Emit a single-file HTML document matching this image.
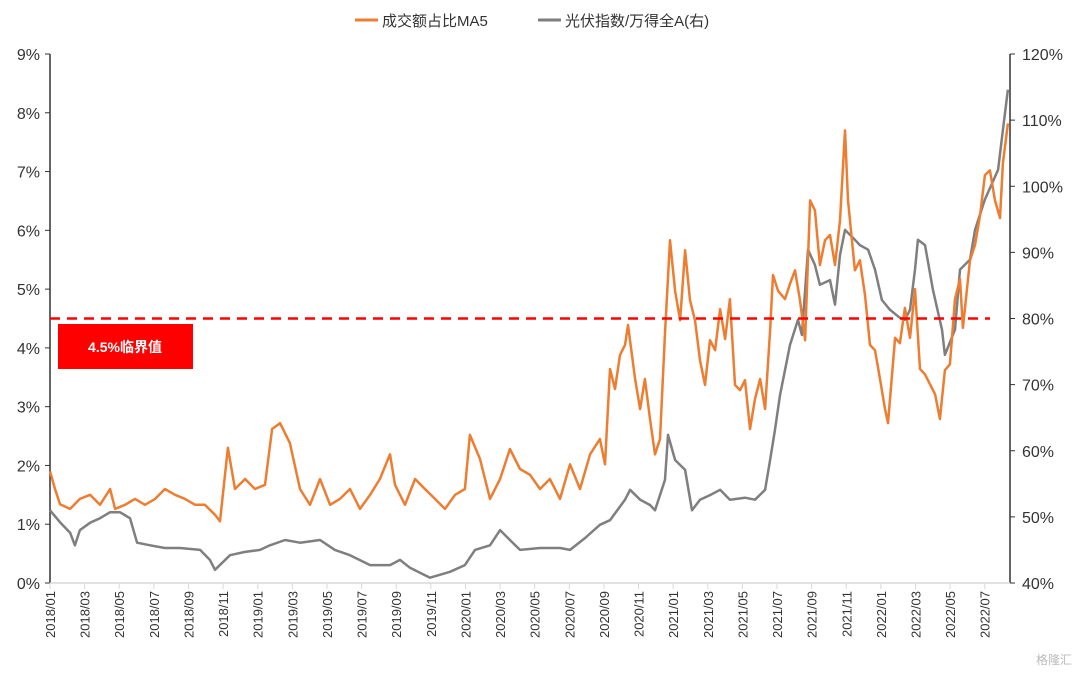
<!DOCTYPE html>
<html><head><meta charset="utf-8">
<style>
body{margin:0;background:#fff;font-family:"Liberation Sans","Noto Sans CJK SC",sans-serif;}
svg text{font-family:"Liberation Sans","Noto Sans CJK SC",sans-serif;}
</style></head>
<body>
<svg id="chart" width="1080" height="671" xmlns="http://www.w3.org/2000/svg">
<g id="grid"></g>
<g id="series"></g>
<g id="legend">
  <line x1="355" y1="20" x2="378" y2="20" stroke="#ED7D31" stroke-width="3"/>
  <text x="382" y="26" font-size="15" fill="#333">成交额占比MA5</text>
  <line x1="538" y1="20" x2="561" y2="20" stroke="#7F7F7F" stroke-width="3"/>
  <text x="565" y="26" font-size="15" fill="#333">光伏指数/万得全A(右)</text>
</g>
<rect x="58" y="324" width="135" height="45" fill="#FF0000"/>
<text x="125" y="352" font-size="14" font-weight="bold" fill="#fff" text-anchor="middle">4.5%临界值</text>
<text x="1072" y="664" font-size="12" fill="#bbb" text-anchor="end">格隆汇</text>
</svg>
<script>
const leftTicks=[0,1,2,3,4,5,6,7,8,9];
const rightTicks=[40,50,60,70,80,90,100,110,120];
const threshold=4.5;
const shareMonths=[0,0.29,0.58,1.16,1.73,2.31,2.89,3.47,3.76,4.33,4.91,5.49,6.07,6.64,7.22,7.8,8.38,8.95,9.53,9.82,10.28,10.69,11.27,11.84,12.42,12.83,13.29,13.86,14.44,15.02,15.6,16.18,16.75,17.33,17.91,18.49,19.06,19.64,19.93,20.51,21.09,21.66,22.24,22.82,23.4,23.97,24.26,24.84,25.42,26,26.57,27.15,27.73,28.31,28.88,29.46,30.04,30.62,31.2,31.77,32.06,32.35,32.64,32.93,33.22,33.39,33.8,34.09,34.37,34.66,34.95,35.24,35.53,35.82,36.11,36.4,36.69,36.97,37.26,37.55,37.84,38.13,38.42,38.71,39,39.28,39.57,39.86,40.15,40.44,40.73,41.02,41.31,41.6,41.77,42.06,42.46,42.75,43.04,43.33,43.62,43.91,44.19,44.48,44.77,45.06,45.35,45.64,45.93,46.1,46.5,46.79,47.08,47.37,47.66,47.95,48.24,48.41,48.82,49.1,49.39,49.68,49.97,50.26,50.55,50.84,51.13,51.41,51.7,51.99,52.28,52.57,52.74,53.15,53.44,53.73,54.01,54.3,54.59,54.88,55.05,55.34];
const shareValues=[1.9,1.6,1.34,1.26,1.43,1.5,1.33,1.6,1.26,1.33,1.43,1.33,1.43,1.6,1.5,1.43,1.33,1.33,1.16,1.05,2.3,1.6,1.77,1.6,1.67,2.62,2.72,2.38,1.6,1.33,1.77,1.33,1.43,1.6,1.26,1.5,1.77,2.19,1.67,1.33,1.77,1.6,1.43,1.26,1.5,1.6,2.52,2.11,1.43,1.77,2.28,1.94,1.84,1.6,1.77,1.43,2.02,1.6,2.19,2.45,2.02,3.64,3.3,3.88,4.05,4.39,3.47,2.96,3.47,2.79,2.19,2.45,4.25,5.83,4.97,4.47,5.66,4.81,4.47,3.79,3.37,4.13,3.96,4.66,4.15,4.83,3.37,3.28,3.45,2.62,3.13,3.47,2.96,4.3,5.24,4.97,4.83,5.09,5.32,4.81,4.13,6.51,6.34,5.41,5.83,5.92,5.41,6.17,7.7,6.51,5.32,5.49,4.9,4.05,3.96,3.47,2.96,2.72,4.17,4.08,4.68,4.17,5,3.64,3.55,3.38,3.21,2.79,3.62,3.72,4.83,5.17,4.34,5.49,5.75,6.26,6.94,7.02,6.51,6.21,7.14,7.82];
const pvMonths=[0,0.58,1.16,1.44,1.73,2.31,2.89,3.47,4.04,4.62,5.03,5.78,6.64,7.51,8.67,9.24,9.53,10.4,11.27,12.13,12.71,13.58,14.44,15.6,16.46,17.33,18.49,19.64,20.22,20.8,21.95,23.11,23.97,24.55,25.42,26,26.57,27.15,28.31,29.46,30.04,30.91,31.77,32.35,33.22,33.51,34.09,34.66,34.95,35.53,35.7,36.11,36.69,37.09,37.55,38.13,38.71,39.28,40.15,40.73,41.31,41.6,41.88,42.17,42.46,42.75,43.21,43.44,43.79,44.19,44.48,45.06,45.35,45.64,45.93,46.5,46.79,47.26,47.66,48.06,48.53,49.1,49.39,49.68,49.97,50.14,50.55,51.01,51.53,51.7,52.28,52.57,53.15,53.44,54.01,54.77,55.05,55.34];
const pvValues=[51,49.2,47.6,45.7,48,49.1,49.8,50.7,50.7,49.8,46.1,45.7,45.3,45.3,45,43.5,42,44.2,44.7,45,45.7,46.5,46.1,46.5,45,44.2,42.7,42.7,43.5,42.3,40.8,41.7,42.7,45,45.7,48,46.5,45,45.3,45.3,45,46.8,48.8,49.5,52.6,54.1,52.6,51.8,51,55.6,62.4,58.6,57.1,51,52.6,53.3,54.1,52.6,52.9,52.6,54.1,58.6,63.1,68.4,72.2,76,79.8,77.5,90.4,88.1,85.1,85.8,82.1,89.6,93.4,91.9,91.1,90.4,87.4,82.8,81.3,80.1,79.8,81.3,87.4,91.9,91.1,84.3,78.3,74.5,78.3,87.4,88.9,93.4,98,102.5,108.5,114.6];
const xLabels=[];
for(let i=0;i<28;i++){const mm=i*2;const y=2018+Math.floor(mm/12);const m=mm%12+1;xLabels.push(y+'/'+(m<10?'0'+m:m));}

const NS='http://www.w3.org/2000/svg';
const L=50,R=1010,T=54,B=583;
const xS=m=>L+m*17.31;
const yL=v=>B-(v-0)/9*(B-T);
const yR=v=>B-(v-40)/80*(B-T);
const grid=document.getElementById('grid'),ser=document.getElementById('series');
function mk(tag,attrs,parent){const e=document.createElementNS(NS,tag);for(const k in attrs)e.setAttribute(k,attrs[k]);parent.appendChild(e);return e;}

let e=mk('line',{x1:L,y1:T,x2:L,y2:B,stroke:'#333','stroke-width':1.5},grid);


e=mk('line',{x1:R,y1:T,x2:R,y2:B,stroke:'#333','stroke-width':1.5},grid);


e=mk('line',{x1:L,y1:B,x2:R,y2:B,stroke:'#d9d9d9','stroke-width':1.5},grid);



leftTicks.forEach(v=>{
  const y=yL(v);
  let t=mk('line',{x1:L-5,y1:y,x2:L,y2:y,stroke:'#333'},grid);
  
  
  let tx=mk('text',{x:L-10,y:y+6,'font-size':16,fill:'#333','text-anchor':'end'},grid);
  tx.textContent=v+'%';
  
  
});
rightTicks.forEach(v=>{
  const y=yR(v);
  let t=mk('line',{x1:R,y1:y,x2:R+5,y2:y,stroke:'#333'},grid);
  
  
  let tx=mk('text',{x:R+12,y:y+6,'font-size':16,fill:'#333'},grid);
  tx.textContent=v+'%';
  
  
});
xLabels.forEach((lab,i)=>{
  const x=xS(i*2);
  let t=mk('line',{x1:x,y1:B,x2:x,y2:B+6,stroke:'#d9d9d9'},grid);
  
  
  let tx=mk('text',{x:0,y:0,'font-size':13,fill:'#333','text-anchor':'end',transform:`translate(${x+5},${B+8}) rotate(-90)`},grid);
  tx.textContent=lab;
  
  
});

function path(ms,vs,ys){return ms.map((m,i)=>(i?'L':'M')+xS(m).toFixed(1)+','+ys(vs[i]).toFixed(1)).join('');}
let p=mk('path',{d:path(pvMonths,pvValues,yR),fill:'none',stroke:'#7F7F7F','stroke-width':2.5,'stroke-linejoin':'round'},ser);


p=mk('path',{d:path(shareMonths,shareValues,yL),fill:'none',stroke:'#ED7D31','stroke-width':2.5,'stroke-linejoin':'round'},ser);


p=mk('line',{x1:L,y1:yL(threshold),x2:990,y2:yL(threshold),stroke:'#FF0000','stroke-width':2.5,'stroke-dasharray':'10,7'},ser);


</script>
</body></html>
